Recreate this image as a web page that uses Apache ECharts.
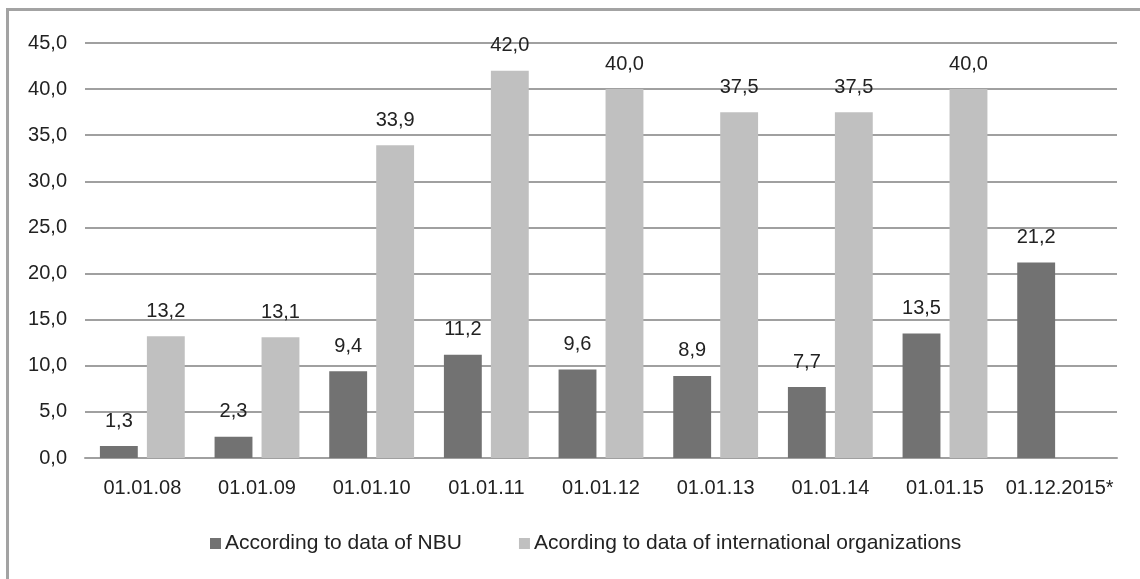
<!DOCTYPE html>
<html>
<head>
<meta charset="utf-8">
<script src="https://cdn.jsdelivr.net/npm/echarts@6/dist/echarts.min.js"></script>
<style>
html,body{margin:0;padding:0;background:#fff;}
#c{width:1140px;height:579px;}
</style>
</head>
<body>
<div id="c"></div>
<script>
const categories = ['01.01.08','01.01.09','01.01.10','01.01.11','01.01.12','01.01.13','01.01.14','01.01.15','01.12.2015*'];
const nbuValues = [1.3, 2.3, 9.4, 11.2, 9.6, 8.9, 7.7, 13.5, 21.2];
const intlValues = [13.2, 13.1, 33.9, 42.0, 40.0, 37.5, 37.5, 40.0, null];
const seriesNames = ['According to data of NBU', 'Acording to data of international organizations'];

const fmt = v => v.toFixed(1).replace('.', ',');
const font = 'Liberation Sans, Arial, Helvetica, sans-serif';

const chart = echarts.init(document.getElementById('c'));
chart.setOption({
  animation: false,
  backgroundColor: '#fff',
  textStyle: { fontFamily: font },
  graphic: [{
    type: 'rect',
    shape: { x: 7.5, y: 9.5, width: 3000, height: 3000 },
    style: { fill: 'none', stroke: '#a3a3a3', lineWidth: 3 },
    z: 100
  }],
  grid: { left: 85, right: 23, top: 43, bottom: 121 },
  legend: {
    top: 528,
    left: 205,
    itemWidth: 11,
    itemHeight: 11,
    itemGap: 57,
    icon: 'rect',
    textStyle: { fontSize: 21, color: '#222', fontFamily: font, padding: [0, 0, 0, -1] },
    data: seriesNames
  },
  xAxis: {
    type: 'category',
    data: categories,
    axisTick: { show: false },
    axisLine: { lineStyle: { color: '#a0a0a0', width: 2 } },
    axisLabel: { interval: 0, fontSize: 20, color: '#222', margin: 20, fontFamily: font }
  },
  yAxis: {
    type: 'value',
    min: 0, max: 45, interval: 5,
    axisLine: { show: false },
    axisTick: { show: false },
    splitLine: { lineStyle: { color: '#a0a0a0', width: 2 } },
    axisLabel: { fontSize: 20, color: '#222', margin: 18, fontFamily: font, formatter: fmt }
  },
  series: [
    {
      name: seriesNames[0], type: 'bar', data: nbuValues,
      itemStyle: { color: '#727272' },
      barGap: '24%', barCategoryGap: '26%',
      label: { show: true, position: 'top', distance: 15, fontSize: 20, color: '#222', fontFamily: font, formatter: p => fmt(p.value) }
    },
    {
      name: seriesNames[1], type: 'bar', data: intlValues,
      itemStyle: { color: '#c0c0c0' },
      barGap: '24%', barCategoryGap: '26%',
      label: { show: true, position: 'top', distance: 15, fontSize: 20, color: '#222', fontFamily: font, formatter: p => p.value == null ? '' : fmt(p.value) }
    }
  ]
});
</script>
</body>
</html>
